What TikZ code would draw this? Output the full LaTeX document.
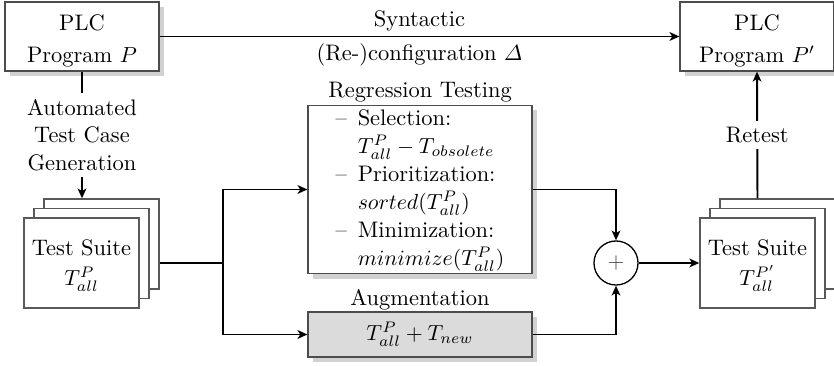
\documentclass[tikz,border=0pt]{standalone}
\usepackage{amsmath}
\usetikzlibrary{arrows.meta,shadows,calc}
\begin{document}
\begin{tikzpicture}[x=0.4587pt,y=-0.4587pt,
  font=\fontsize{10.3pt}{12.6pt}\selectfont,
  conn/.style={line width=0.9pt,-{Stealth[length=4.5pt,width=4pt,inset=1.2pt]}},
  plain/.style={line width=0.9pt},
  shbox/.style={draw=black!70,line width=0.6pt,fill=white,
     drop shadow={shadow xshift=2.3pt,shadow yshift=-2.3pt,fill=black!18,opacity=1}},
  progbox/.style={shbox,minimum width=70.6pt,minimum height=31.7pt,inner sep=0pt,align=center},
  suitebox/.style={draw=black!65,line width=0.6pt,fill=white,minimum width=52.8pt,minimum height=41.3pt,inner sep=0pt,align=center},
  lbl/.style={fill=white,align=center,inner sep=3pt}]
\useasboundingbox (0,0) rectangle (834,366);
\clip (0,0) rectangle (834,366);
% programs
\node[progbox] (P) at (82,36.5) {\rule{0pt}{11.5pt}PLC\\[2pt]Program $P$};
\node[progbox] (Pp) at (757,36.5) {\rule{0pt}{11.5pt}PLC\\[2pt]Program $P'$};
% left test suite stack
\node[suitebox] (lback) at (101.5,244) {};
\node[suitebox] (lmid) at (91.5,253.5) {};
\node[suitebox] (lfront) at (81.5,263) {\rule{0pt}{10pt}Test Suite\\[1pt]$T^{P}_{all}$};
% right test suite stack
\node[suitebox] (rback) at (777.5,244) {};
\node[suitebox] (rmid) at (767.5,253.5) {};
\node[suitebox] (rfront) at (757.5,263) {\rule{0pt}{10pt}Test Suite\\[1pt]$T^{P'}_{all}$};
% regression box
\node[shbox,minimum width=102.7pt,minimum height=75.7pt,inner sep=0pt] (reg) at (420,189.5)
 {\renewcommand{\arraystretch}{1.02}\begin{tabular}{@{}l@{\hspace{5pt}}l@{}}
  -- & Selection:\\
     & $T^{P}_{all}-T_{obsolete}$\\
  -- & Prioritization:\\
     & $sorted(T^{P}_{all})$\\
  -- & Minimization:\\
     & $minimize(T^{P}_{all})$
  \end{tabular}};
\node[anchor=south,inner sep=1pt] (regt) at (reg.north) {Regression Testing};
% augmentation box
\node[shbox,fill=black!14,minimum width=102.7pt,minimum height=20.6pt,inner sep=0pt] (aug) at (420,334.5) {$T^{P}_{all}+T_{new}$};
\node[anchor=south,inner sep=0.5pt] (augt) at (aug.north) {Augmentation};
% sum
\node[draw=black,line width=0.6pt,circle,minimum size=20.2pt,inner sep=0pt,text=black!70] (sum) at (616,263) {$+$};
% connectors
\draw[conn] (P.east) -- node[above=-1.5pt]{Syntactic} node[below=-0.5pt]{(Re-)configuration $\varDelta$} (Pp.west);
\draw[conn] (P.south) -- node[lbl]{Automated\\Test Case\\Generation} (P.south |- lback.north);
\coordinate (br) at (223,263);
\draw[plain] (lfront.east -| lback.east) -- (br);
\draw[conn] (br) |- (reg.west);
\draw[conn] (br) |- (aug.west);
\draw[conn] (reg.east) -| (sum.north);
\draw[conn] (aug.east) -| (sum.south);
\draw[conn] (sum.east) -- (rfront.west);
\draw[conn] (rfront.north |- rback.north) -- node[lbl]{Retest} (Pp.south);
\end{tikzpicture}
\end{document}
